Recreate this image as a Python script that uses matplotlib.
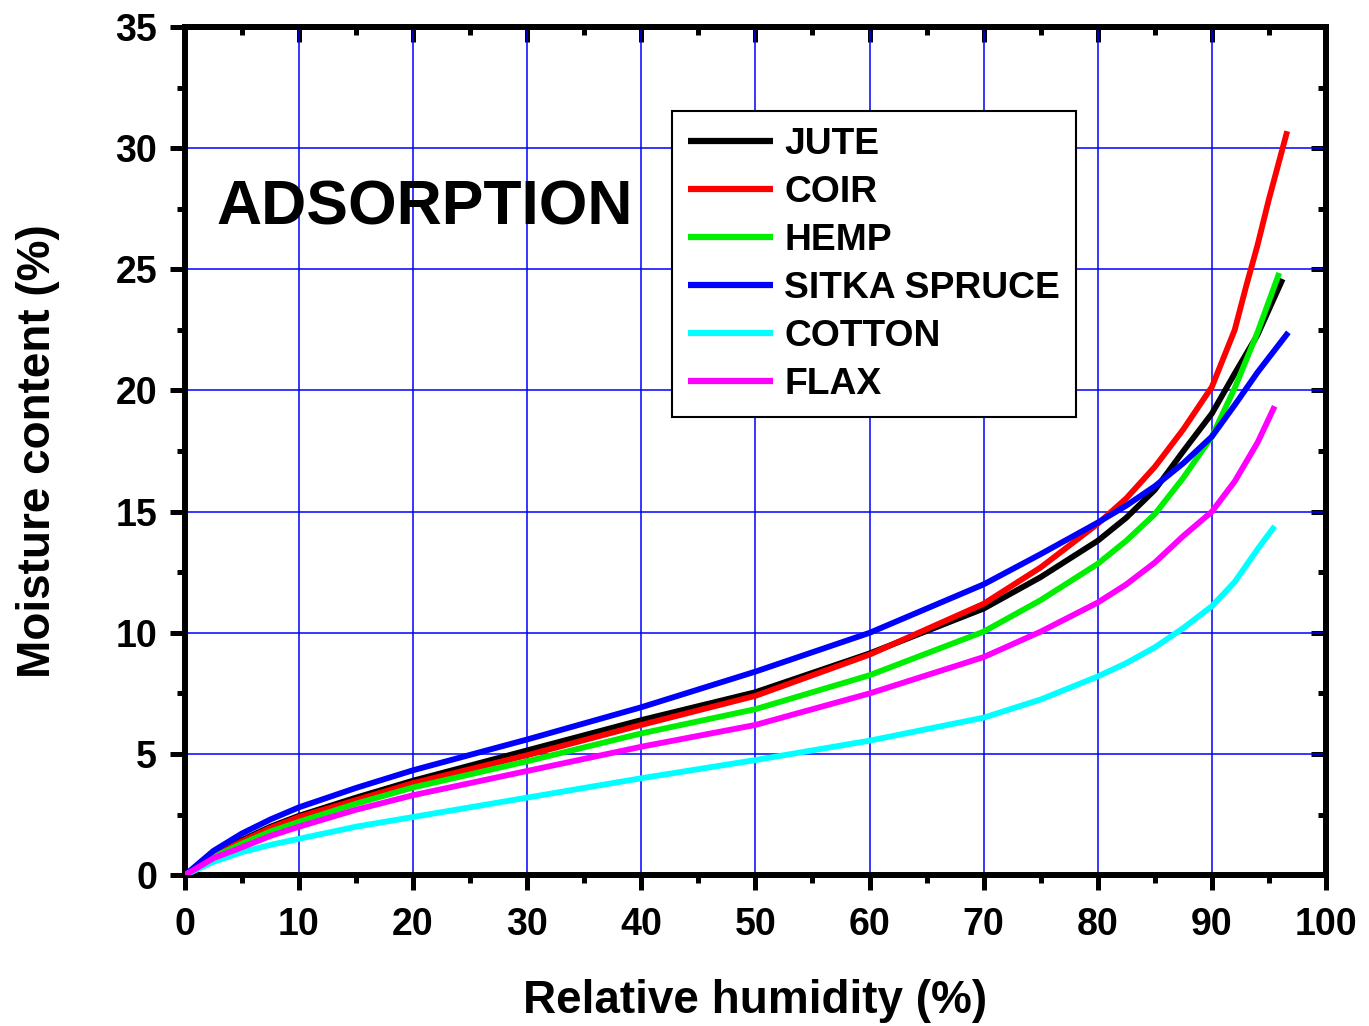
import numpy as np
import matplotlib
matplotlib.use('Agg')
import matplotlib.pyplot as plt
from matplotlib.ticker import MultipleLocator, NullFormatter

plt.rcParams['font.family'] = ['Liberation Sans', 'DejaVu Sans']
plt.rcParams['font.weight'] = 'bold'

# relative humidity (%) shared by all curves
rh = [0, 2.5, 5, 7.5, 10, 15, 20, 30, 40, 50, 60, 70, 75, 80, 82.5, 85, 87.5, 90, 92]

jute = [0, 0.85, 1.45, 2.0, 2.45, 3.2, 3.9, 5.15, 6.4, 7.55, 9.15, 11.0, 12.3, 13.8, 14.75, 15.9, 17.5, 19.05, 20.7]
coir = [0, 0.8, 1.4, 1.95, 2.4, 3.1, 3.8, 4.95, 6.2, 7.4, 9.1, 11.2, 12.7, 14.5, 15.55, 16.85, 18.4, 20.15, 22.5]
hemp = [0, 0.75, 1.3, 1.8, 2.2, 2.95, 3.62, 4.7, 5.85, 6.85, 8.25, 10.05, 11.35, 12.85, 13.8, 14.9, 16.4, 18.1, 20.1]
spruce = [0, 1.0, 1.72, 2.3, 2.8, 3.6, 4.33, 5.6, 6.93, 8.4, 10.0, 12.0, 13.25, 14.55, 15.25, 16.05, 17.0, 18.1, 19.4]
cotton = [0, 0.55, 0.95, 1.25, 1.5, 2.0, 2.4, 3.2, 4.0, 4.75, 5.55, 6.5, 7.25, 8.2, 8.75, 9.4, 10.2, 11.1, 12.1]
flax = [0, 0.7, 1.15, 1.62, 2.0, 2.7, 3.3, 4.3, 5.3, 6.2, 7.5, 9.0, 10.05, 11.25, 12.0, 12.9, 14.0, 15.0, 16.25]

# tail of each curve above 92 % RH (each stops at its own point)
jute_tail_rh, jute_tail = [94, 96.2], [22.3, 24.6]
coir_tail_rh, coir_tail = [93, 94, 95, 96.6], [24.3, 26.0, 27.9, 30.7]
hemp_tail_rh, hemp_tail = [94, 95.9], [22.4, 24.85]
spruce_tail_rh, spruce_tail = [94, 96.7], [20.75, 22.4]
cotton_tail_rh, cotton_tail = [94, 95.5], [13.45, 14.4]
flax_tail_rh, flax_tail = [94, 95.5], [17.85, 19.35]

names = ['JUTE', 'COIR', 'HEMP', 'SITKA SPRUCE', 'COTTON', 'FLAX']
colors = ['#000000', '#ff0000', '#00ee00', '#0000ff', '#00ffff', '#ff00ff']

series = [(jute, jute_tail_rh, jute_tail), (coir, coir_tail_rh, coir_tail),
          (hemp, hemp_tail_rh, hemp_tail), (spruce, spruce_tail_rh, spruce_tail),
          (cotton, cotton_tail_rh, cotton_tail), (flax, flax_tail_rh, flax_tail)]

fig = plt.figure(figsize=(13.69, 10.26), dpi=100)
ax = fig.add_axes([0.135, 0.147, 0.8336, 0.8267])

for (vals, trh, tval), name, c in zip(series, names, colors):
    ax.plot(rh + trh, vals + tval, color=c, lw=4.2, label=name,
            solid_capstyle='butt', solid_joinstyle='round', zorder=3)

ax.set_xlim(0, 100)
ax.set_ylim(0, 35)
ax.xaxis.set_major_locator(MultipleLocator(10))
ax.xaxis.set_minor_locator(MultipleLocator(5))
ax.yaxis.set_major_locator(MultipleLocator(5))
ax.yaxis.set_minor_locator(MultipleLocator(2.5))
ax.grid(True, which='major', color='#0000ff', lw=1.1, zorder=0)
ax.set_axisbelow(True)

# left/bottom ticks point out, labels bold
ax.tick_params(which='both', direction='out', width=3.6)
ax.tick_params(which='major', length=11, labelsize=27)
ax.tick_params(axis='x', which='major', pad=12)
ax.tick_params(axis='y', which='major', pad=9)
ax.tick_params(which='minor', length=6)
for lab in ax.get_xticklabels() + ax.get_yticklabels():
    lab.set_fontweight('bold')
for s in ax.spines.values():
    s.set_linewidth(4.3)

# top/right ticks point in
top = ax.secondary_xaxis('top')
right = ax.secondary_yaxis('right')
for sec, (maj, mnr) in ((top, (10, 5)), (right, (5, 2.5))):
    sec_axis = sec.xaxis if sec is top else sec.yaxis
    sec_axis.set_major_locator(MultipleLocator(maj))
    sec_axis.set_minor_locator(MultipleLocator(mnr))
    sec_axis.set_major_formatter(NullFormatter())
    sec.tick_params(which='both', direction='in', width=3.6)
    sec.tick_params(which='major', length=11)
    sec.tick_params(which='minor', length=6)
    for s in sec.spines.values():
        s.set_linewidth(4.3)

ax.set_xlabel('Relative humidity (%)', fontsize=33, fontweight='bold', labelpad=26)
ax.set_ylabel('Moisture content (%)', fontsize=33, fontweight='bold', labelpad=40)

ax.text(0.028, 0.786, 'ADSORPTION', transform=ax.transAxes, fontsize=45,
        fontweight='bold', va='center', ha='left')

leg = ax.legend(loc='upper left', bbox_to_anchor=(0.4268, 0.901),
                prop={'weight': 'bold', 'size': 26.8}, frameon=True, fancybox=False,
                framealpha=1, edgecolor='black', handlelength=2.3,
                handletextpad=0.3, labelspacing=0.35, borderpad=0.42,
                borderaxespad=0)
leg.get_frame().set_linewidth(1.5)
for h in leg.get_lines():
    h.set_linewidth(4.5)

fig.savefig('out.png', dpi=100)
